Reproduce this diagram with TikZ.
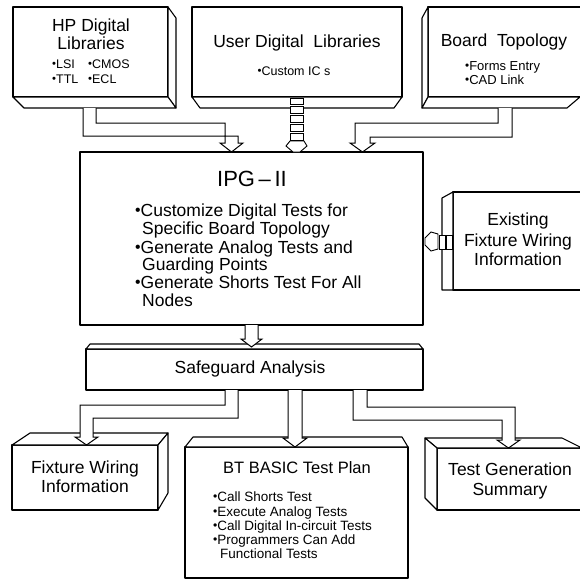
\documentclass[tikz,border=0pt]{standalone}
\usepackage{fontspec}
\usepackage{graphicx}
\setmainfont{Liberation Sans}
\newcommand\bu{\raisebox{0.1ex}{\scalebox{0.9}{•}}}
\tikzset{
  box/.style={draw=black, fill=white, line width=1.1pt, line join=round},
  pipe/.style={draw=black, fill=white, line width=1pt, line join=miter},
  seg/.style={draw=black, fill=white, line width=0.9pt},
  ttl/.style={font=\fontsize{17.5}{20}\selectfont, anchor=base, inner sep=0pt},
  big/.style={font=\fontsize{22}{25}\selectfont, anchor=base, inner sep=0pt},
  ipgtxt/.style={font=\fontsize{17.5}{20}\selectfont, anchor=base west, inner sep=0pt},
  sml/.style={font=\fontsize{12.5}{14}\selectfont, anchor=base west, inner sep=0pt},
  btx/.style={font=\fontsize{13.5}{15}\selectfont, anchor=base west, inner sep=0pt},
}
\begin{document}
\begin{tikzpicture}[x=1pt,y=-1pt]
\useasboundingbox (0,0) rectangle (580,581);
\fill[white] (0,0) rectangle (580,581);

% ---------- boxes ----------
% HP Digital Libraries
\draw[box] (13,7) rectangle (168,97);
\draw[box] (168,7) -- (176,18) -- (176,108) -- (168,97) -- cycle;
\draw[box] (13,97) -- (24,108) -- (176,108) -- (168,97) -- cycle;
% User Digital Libraries
\draw[box] (192,7) rectangle (402,97);
\draw[box] (192,97) -- (200,108) -- (394,108) -- (402,97) -- cycle;
% Board Topology
\draw[box] (428,7) rectangle (584,97);
\draw[box] (422,18) -- (428,7) -- (428,97) -- (422,108) -- cycle;
\draw[box] (422,108) -- (567,108) -- (580,97) -- (428,97) -- cycle;
% IPG-II
\draw[box] (80,152) rectangle (423,325);
% Existing Fixture Wiring Information
\draw[box] (453,192) rectangle (584,290);
\draw[box] (442,198) -- (453,192) -- (453,290) -- (442,290) -- cycle;
% Safeguard Analysis
\draw[box] (86,349) rectangle (423,390);
\draw[box] (86,349) -- (90,344) -- (419,344) -- (423,349) -- cycle;
% Fixture Wiring Information
\draw[box] (12,445) rectangle (158,510);
\draw[box] (12,445) -- (30,433) -- (168,433) -- (158,445) -- cycle;
\draw[box] (158,445) -- (168,433) -- (168,493) -- (158,510) -- cycle;
% BT BASIC Test Plan
\draw[box] (185,447) rectangle (408,578);
\draw[box] (185,447) -- (193,437) -- (402,437) -- (408,447) -- cycle;
% Test Generation Summary
\draw[box] (437,448) rectangle (584,510);
\draw[box] (425,438) -- (562,438) -- (582,448) -- (437,448) -- cycle;
\draw[box] (425,438) -- (437,448) -- (437,510) -- (425,498) -- cycle;

% ---------- pipes ----------
\draw[pipe] (83,108) -- (83,136) -- (238,136) -- (238,143) -- (243,143) -- (231.5,152)
  -- (220,143) -- (225,143) -- (225,123) -- (96,123) -- (96,108);
\draw[pipe] (498,108) -- (498,123) -- (355,123) -- (355,143) -- (350,143) -- (362.5,152)
  -- (375,143) -- (370,143) -- (370,137) -- (512,137) -- (512,108);
% segmented connector from User Digital Libraries
\foreach \a/\b in {98/104,106/113,115/122,124/131,133/140}
  \draw[seg] (290,\a) rectangle (303,\b);
\draw[seg] (290,141) -- (304,141) -- (307,146) -- (300,152) -- (293,152) -- (286,146) -- cycle;
% segmented connector from Existing Fixture Wiring
\draw[seg] (446,235) rectangle (452,249);
\draw[seg] (439,235) rectangle (445,249);
\draw[seg] (438,234) -- (431,232) -- (425,238) -- (425,245) -- (431,251) -- (438,249) -- cycle;
% IPG -> Safeguard
\draw[pipe] (245,325) -- (245,339) -- (241,339) -- (251.5,347) -- (262,339) -- (258,339) -- (258,325);
% Safeguard -> Fixture Wiring
\draw[pipe] (225,390) -- (225,405) -- (80,405) -- (80,437) -- (75,437) -- (86.5,445)
  -- (98,437) -- (93,437) -- (93,418) -- (238,418) -- (238,390);
% Safeguard -> BT BASIC
\draw[pipe] (288,390) -- (288,438) -- (283,438) -- (295,447) -- (307,438) -- (302,438) -- (302,390);
% Safeguard -> Test Generation
\draw[pipe] (367,390) -- (367,407) -- (515,407) -- (515,440) -- (520,440) -- (508.5,448)
  -- (497,440) -- (502,440) -- (502,420) -- (353,420) -- (353,390);

% ---------- texts ----------
\node[ttl] (hp1) at (91,31) {HP Digital};
\node[ttl] (hp2) at (91,49) {Libraries};
\node[sml] (hp3) at (52,68) {\bu LSI};
\node[sml] (hp4) at (88,68) {\bu CMOS};
\node[sml] (hp5) at (52,83) {\bu TTL};
\node[sml] (hp6) at (88,83) {\bu ECL};

\node[ttl] (us1) at (297,47) {User Digital\ \ Libraries};
\node[sml, anchor=base] (us2) at (294,75) {\bu Custom IC s};

\node[ttl] (bt1) at (504,46) {Board\ \ Topology};
\node[sml, font=\fontsize{13}{15}\selectfont] (bt2) at (465,70) {\bu Forms Entry};
\node[sml, font=\fontsize{13}{15}\selectfont] (bt3) at (465,84) {\bu CAD Link};

\node[big] (ipg) at (252,186) {IPG\,–\,II};
\node[ipgtxt] (ip1) at (135,216) {\bu Customize Digital Tests for};
\node[ipgtxt] (ip2) at (142,234) {Specific Board Topology};
\node[ipgtxt] (ip3) at (135,253) {\bu Generate Analog Tests and};
\node[ipgtxt] (ip4) at (142,270) {Guarding Points};
\node[ipgtxt] (ip5) at (135,288) {\bu Generate Shorts Test For All};
\node[ipgtxt] (ip6) at (142,306) {Nodes};

\node[ttl] (ex1) at (518,225) {Existing};
\node[ttl] (ex2) at (518,246) {Fixture Wiring};
\node[ttl] (ex3) at (518,265) {Information};

\node[ttl] (sg) at (250,373) {Safeguard Analysis};

\node[ttl] (fw1) at (85,473) {Fixture Wiring};
\node[ttl] (fw2) at (85,492) {Information};

\node[ttl, font=\fontsize{16.5}{19}\selectfont] (bb) at (297,473) {BT BASIC Test Plan};
\node[btx] (bb1) at (213,501) {\bu Call Shorts Test};
\node[btx] (bb2) at (213,516) {\bu Execute Analog Tests};
\node[btx] (bb3) at (213,530) {\bu Call Digital In-circuit Tests};
\node[btx] (bb4) at (213,544) {\bu Programmers Can Add};
\node[btx] (bb5) at (220,558) {Functional Tests};

\node[ttl] (tg1) at (510,475) {Test Generation};
\node[ttl] (tg2) at (510,495) {Summary};
\end{tikzpicture}
\end{document}
